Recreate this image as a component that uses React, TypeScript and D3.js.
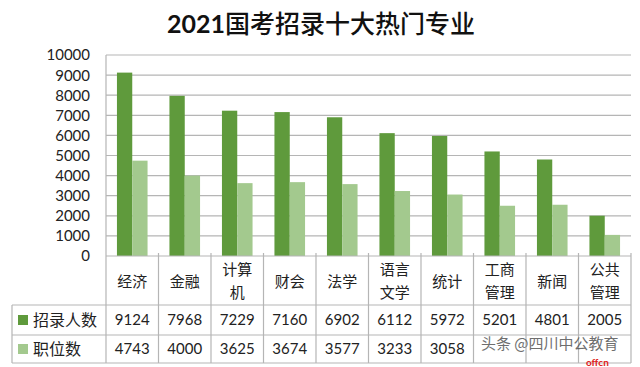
import React from "react";
import * as d3 from "d3";

const categories = [
  ["经济"],
  ["金融"],
  ["计算", "机"],
  ["财会"],
  ["法学"],
  ["语言", "文学"],
  ["统计"],
  ["工商", "管理"],
  ["新闻"],
  ["公共", "管理"],
];
const seriesNames = ["招录人数", "职位数"];
const hires = [9124, 7968, 7229, 7160, 6902, 6112, 5972, 5201, 4801, 2005];
const posts = [4743, 4000, 3625, 3674, 3577, 3233, 3058, 2500, 2550, 1050];
const postLabels = ["4743", "4000", "3625", "3674", "3577", "3233", "3058", "", "", ""];
const yTicks = [0, 1000, 2000, 3000, 4000, 5000, 6000, 7000, 8000, 9000, 10000];
const colors = ["#5f9a3c", "#a3c98e"];

const W = 640;
const H = 367;
const plot = { left: 106, right: 631, top: 55, bottom: 256 };
const tableLeft = 12;
const rowLines = [305, 335, 363];

const numFont = "Lato, 'Noto Sans CJK SC', sans-serif";
const cjkFont = "'Noto Sans CJK SC', sans-serif";

export default function App() {
  const keys = categories.map((c) => c.join(""));
  const x0 = d3.scaleBand<string>().domain(keys).range([plot.left, plot.right]).padding(0);
  const x1 = d3
    .scaleBand<string>()
    .domain(seriesNames)
    .range([0, x0.bandwidth()])
    .paddingInner(0)
    .paddingOuter(0.715);
  const y = d3.scaleLinear().domain([0, 10000]).range([plot.bottom, plot.top]);
  const values = [hires, posts];
  const rowMid = [(rowLines[0] + rowLines[1]) / 2, (rowLines[1] + rowLines[2]) / 2];
  const rowTexts = [hires.map(String), postLabels];

  return (
    <svg
      width={W}
      height={H}
      style={{ position: "absolute", left: 0, top: 0, background: "#fff" }}
    >
      <text x={321} y={33} textAnchor="middle" fontSize={25} fill="#111">
        <tspan fontFamily={numFont} fontWeight="bold">2021</tspan>
        <tspan fontFamily={cjkFont} fontWeight={500}>国考招录十大热门专业</tspan>
      </text>

      {/* gridlines */}
      {yTicks.slice(1).map((t) => (
        <line key={t} x1={plot.left} x2={plot.right} y1={y(t)} y2={y(t)} stroke="#b5b5b5" strokeWidth={1.2} />
      ))}
      {yTicks.map((t) => (
        <text
          key={"l" + t}
          x={90}
          y={y(t)}
          dy="0.36em"
          textAnchor="end"
          fontFamily={numFont}
          fontSize={15}
          fill="#222"
        >
          {t}
        </text>
      ))}

      {/* bars */}
      {values.map((vals, si) =>
        vals.map((v, i) => (
          <rect
            key={si + "-" + i}
            x={(x0(keys[i]) ?? 0) + (x1(seriesNames[si]) ?? 0)}
            y={y(v)}
            width={x1.bandwidth()}
            height={plot.bottom - y(v)}
            fill={colors[si]}
          />
        ))
      )}

      {/* table grid */}
      <g stroke="#b5b5b5" strokeWidth={1.2}>
        <line x1={plot.left} x2={plot.right} y1={plot.bottom} y2={plot.bottom} />
        {rowLines.map((ry) => (
          <line key={ry} x1={tableLeft} x2={plot.right} y1={ry} y2={ry} />
        ))}
        <line x1={tableLeft} x2={tableLeft} y1={rowLines[0]} y2={rowLines[2]} />
        <line x1={plot.left} x2={plot.left} y1={plot.top} y2={rowLines[2]} />
        {keys.map((k) => (
          <line
            key={k}
            x1={(x0(k) ?? 0) + x0.bandwidth()}
            x2={(x0(k) ?? 0) + x0.bandwidth()}
            y1={plot.bottom - 3}
            y2={rowLines[2]}
          />
        ))}
      </g>

      {/* category labels */}
      {categories.map((lines, i) => {
        const cx = (x0(keys[i]) ?? 0) + x0.bandwidth() / 2;
        const mid = (plot.bottom + rowLines[0]) / 2 + 1;
        const start = mid - ((lines.length - 1) * 23) / 2;
        return lines.map((s, j) => (
          <text
            key={keys[i] + j}
            x={cx}
            y={start + j * 23}
            dy="0.36em"
            textAnchor="middle"
            fontFamily={cjkFont}
            fontSize={15}
            fill="#222"
          >
            {s}
          </text>
        ));
      })}

      {/* legend cells and values */}
      {seriesNames.map((name, si) => (
        <g key={name}>
          <rect x={18} y={rowMid[si] - 5} width={10} height={10} fill={colors[si]} />
          <text x={33} y={rowMid[si]} dy="0.36em" fontFamily={cjkFont} fontSize={16} fill="#222">
            {name}
          </text>
          {rowTexts[si].map((s, i) => (
            <text
              key={i}
              x={(x0(keys[i]) ?? 0) + x0.bandwidth() / 2}
              y={rowMid[si]}
              dy="0.36em"
              textAnchor="middle"
              fontFamily={numFont}
              fontSize={15}
              fill="#222"
            >
              {s}
            </text>
          ))}
        </g>
      ))}

      {/* watermark */}
      <text x={481} y={344} dy="0.36em" fontFamily={cjkFont} fontSize={15} fill="#555" opacity={0.85}>
        头条 @四川中公教育
      </text>
      <text x={586} y={362} dy="0.36em" fontFamily={numFont} fontSize={10} fontWeight="bold" fill="#e02020">
        offcn
      </text>
    </svg>
  );
}
